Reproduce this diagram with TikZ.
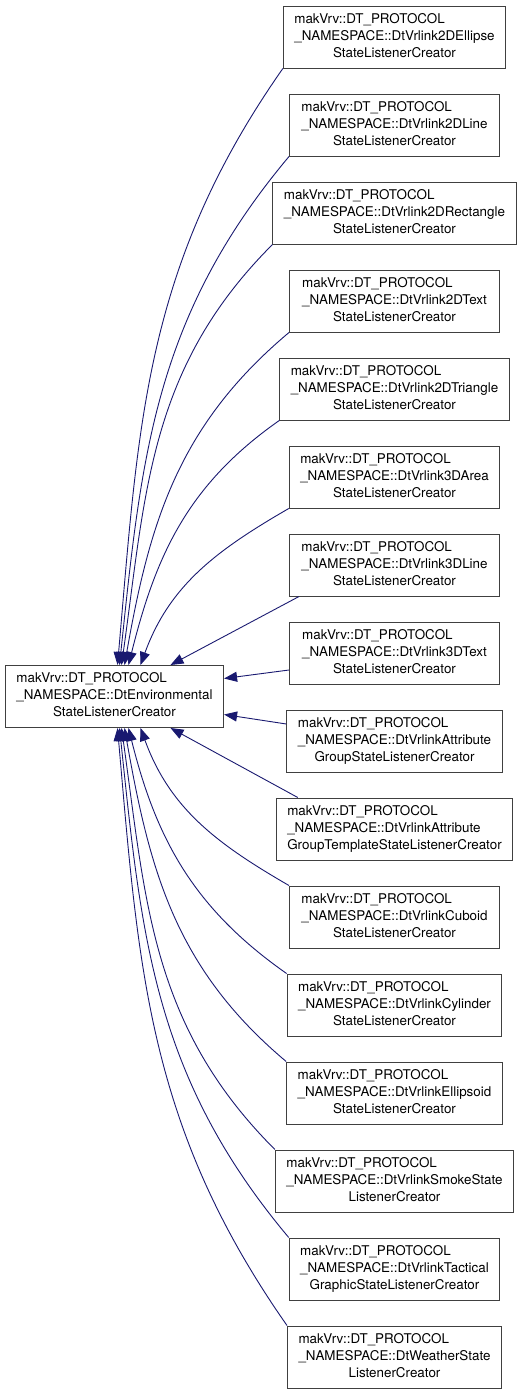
\documentclass[tikz,border=0pt]{standalone}
\usepackage{fontspec}
\setmainfont{TeX Gyre Heros}
\usetikzlibrary{arrows.meta}

\definecolor{navy}{HTML}{191970}
\newcommand{\clsname}[3]{\begin{tabular}{@{}l@{}}#1\\#2\\\multicolumn{1}{@{}c@{}}{#3}\end{tabular}}

\begin{document}
\begin{tikzpicture}[
	x=1pt, y=1pt,
	box/.style={
		rectangle, draw=black!75, line width=1pt,
		minimum height=62pt, minimum width=210pt,
		inner xsep=11pt, inner ysep=2pt,
		font=\fontsize{13.4}{17}\selectfont
	},
	edge/.style={draw, navy, line width=0.9pt, {Triangle[length=13pt, width=10pt]}-},
	]
	\useasboundingbox (0,0) rectangle (523,-1395);

	\node [box] (env) at (114.5,-696.5) {\clsname{makVrv::DT\_PROTOCOL}{\_NAMESPACE::DtEnvironmental}{StateListenerCreator}};

	\matrix [row sep=25pt] at (394.5,-697) {
		\node [box] (ellipse2d) {\clsname{makVrv::DT\_PROTOCOL}{\_NAMESPACE::DtVrlink2DEllipse}{StateListenerCreator}}; \\
		\node [box] (line2d) {\clsname{makVrv::DT\_PROTOCOL}{\_NAMESPACE::DtVrlink2DLine}{StateListenerCreator}}; \\
		\node [box] (rect2d) {\clsname{makVrv::DT\_PROTOCOL}{\_NAMESPACE::DtVrlink2DRectangle}{StateListenerCreator}}; \\
		\node [box] (text2d) {\clsname{makVrv::DT\_PROTOCOL}{\_NAMESPACE::DtVrlink2DText}{StateListenerCreator}}; \\
		\node [box] (tri2d) {\clsname{makVrv::DT\_PROTOCOL}{\_NAMESPACE::DtVrlink2DTriangle}{StateListenerCreator}}; \\
		\node [box] (area3d) {\clsname{makVrv::DT\_PROTOCOL}{\_NAMESPACE::DtVrlink3DArea}{StateListenerCreator}}; \\
		\node [box] (line3d) {\clsname{makVrv::DT\_PROTOCOL}{\_NAMESPACE::DtVrlink3DLine}{StateListenerCreator}}; \\
		\node [box] (text3d) {\clsname{makVrv::DT\_PROTOCOL}{\_NAMESPACE::DtVrlink3DText}{StateListenerCreator}}; \\
		\node [box] (attrgrp) {\clsname{makVrv::DT\_PROTOCOL}{\_NAMESPACE::DtVrlinkAttribute}{GroupStateListenerCreator}}; \\
		\node [box] (attrtpl) {\clsname{makVrv::DT\_PROTOCOL}{\_NAMESPACE::DtVrlinkAttribute}{GroupTemplateStateListenerCreator}}; \\
		\node [box] (cuboid) {\clsname{makVrv::DT\_PROTOCOL}{\_NAMESPACE::DtVrlinkCuboid}{StateListenerCreator}}; \\
		\node [box] (cylinder) {\clsname{makVrv::DT\_PROTOCOL}{\_NAMESPACE::DtVrlinkCylinder}{StateListenerCreator}}; \\
		\node [box] (ellipsoid) {\clsname{makVrv::DT\_PROTOCOL}{\_NAMESPACE::DtVrlinkEllipsoid}{StateListenerCreator}}; \\
		\node [box] (smoke) {\clsname{makVrv::DT\_PROTOCOL}{\_NAMESPACE::DtVrlinkSmokeState}{ListenerCreator}}; \\
		\node [box] (tactical) {\clsname{makVrv::DT\_PROTOCOL}{\_NAMESPACE::DtVrlinkTactical}{GraphicStateListenerCreator}}; \\
		\node [box] (weather) {\clsname{makVrv::DT\_PROTOCOL}{\_NAMESPACE::DtWeatherState}{ListenerCreator}}; \\
	};

	% upper half
	\path [edge] ([xshift=3pt]env.north) to[out=85, in=235] (ellipse2d.south west);
	\path [edge] ([xshift=5pt]env.north) to[out=84, in=230] (line2d.south west);
	\path [edge] ([xshift=7pt]env.north) to[out=82, in=225] (rect2d.south west);
	\path [edge] ([xshift=10pt]env.north) to[out=80, in=220] (text2d.south west);
	\path [edge] ([xshift=14pt]env.north) to[out=76, in=215] (tri2d.south west);
	\path [edge] ([xshift=26pt]env.north) to[out=70, in=210] (area3d.south west);
	\path [edge] ([xshift=56pt]env.north) -- ([xshift=10pt]line3d.south west);
	\path [edge] ([yshift=18pt]env.east) -- ([yshift=-17pt]text3d.west);
	% lower half
	\path [edge] ([yshift=-18pt]env.east) -- ([yshift=17pt]attrgrp.west);
	\path [edge] ([xshift=56pt]env.south) -- ([xshift=22pt]attrtpl.north west);
	\path [edge] ([xshift=26pt]env.south) to[out=-70, in=150] (cuboid.north west);
	\path [edge] ([xshift=14pt]env.south) to[out=-76, in=145] (cylinder.north west);
	\path [edge] ([xshift=10pt]env.south) to[out=-80, in=140] (ellipsoid.north west);
	\path [edge] ([xshift=7pt]env.south) to[out=-82, in=135] (smoke.north west);
	\path [edge] ([xshift=5pt]env.south) to[out=-84, in=130] (tactical.north west);
	\path [edge] ([xshift=3pt]env.south) to[out=-85, in=125] (weather.north west);
\end{tikzpicture}
\end{document}
